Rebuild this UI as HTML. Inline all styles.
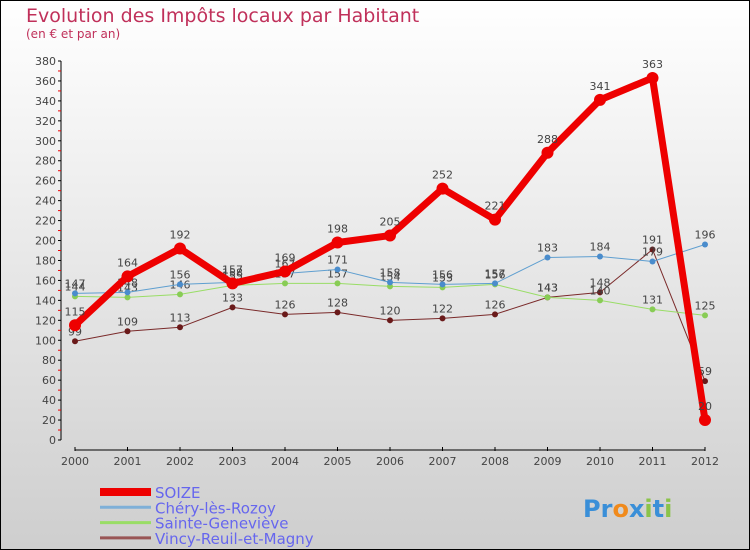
<!DOCTYPE html>
<html><head><meta charset="utf-8"><style>
body{margin:0}
svg{display:block;font-family:"DejaVu Sans","Liberation Sans",sans-serif}
</style></head><body>
<svg width="750" height="550" xmlns="http://www.w3.org/2000/svg">
<defs><linearGradient id="bg" x1="0" y1="0" x2="0" y2="1"><stop offset="0" stop-color="#ffffff"/><stop offset="1" stop-color="#cecece"/></linearGradient></defs>
<rect x="0.5" y="0.5" width="749" height="549" fill="url(#bg)" stroke="#000"/>
<text x="26" y="22" font-size="19" fill="#c0305a">Evolution des Impôts locaux par Habitant</text>
<text x="26" y="38" font-size="12" fill="#c0305a">(en € et par an)</text>
<g id="axes"></g>
<g id="series"></g>
<g id="legend"></g>
<text x="583" y="517" font-size="24" font-weight="bold"><tspan fill="#3a8fd8">Pr</tspan><tspan fill="#f08a1c">o</tspan><tspan fill="#3a8fd8">x</tspan><tspan fill="#8bc34a">i</tspan><tspan fill="#3a8fd8">t</tspan><tspan fill="#8bc34a">i</tspan></text>
</svg>
<script>
const years=[2000,2001,2002,2003,2004,2005,2006,2007,2008,2009,2010,2011,2012];
const yTicks=[0,20,40,60,80,100,120,140,160,180,200,220,240,260,280,300,320,340,360,380];
const seriesNames=["SOIZE","Chéry-lès-Rozoy","Sainte-Geneviève","Vincy-Reuil-et-Magny"];
const soize=[115,164,192,157,169,198,205,252,221,288,341,363,20];
const chery=[147,148,156,158,167,171,158,156,157,183,184,179,196];
const sainte=[144,143,146,155,157,157,154,153,156,143,140,131,125];
const vincy=[99,109,113,133,126,128,120,122,126,143,148,191,59];
const NS="http://www.w3.org/2000/svg";
const x0=75,x1=705,yBase=440,yTop=61,yMax=380;
const X=i=>x0+(x1-x0)*i/(years.length-1);
const Y=v=>yBase-(yBase-yTop)*v/yMax;
function mk(tag,attrs,parent,txt){const e=document.createElementNS(NS,tag);for(const k in attrs)e.setAttribute(k,attrs[k]);if(txt!==undefined)e.textContent=txt;parent.appendChild(e);return e;}
const ax=document.getElementById('axes');
let l=mk('line',{x1:61,y1:Y(yMax),x2:61,y2:yBase,stroke:'#000'},ax);


yTicks.forEach(v=>{
 let t=mk('line',{x1:58,x2:61,y1:Y(v),y2:Y(v),stroke:'#000'},ax);
 
 
 if(v<yMax){let m=mk('line',{x1:58,x2:61,y1:Y(v+10),y2:Y(v+10),stroke:'#e00'},ax);
 
 }
 let tx=mk('text',{x:56,y:Y(v)+4,'text-anchor':'end','font-size':11,fill:'#444'},ax,String(v));
 
 
});
l=mk('line',{x1:x0,y1:450,x2:x1,y2:450,stroke:'#000'},ax);


years.forEach((yr,i)=>{
 let t=mk('line',{x1:X(i),x2:X(i),y1:447,y2:451,stroke:'#000'},ax);
 
 
 let tx=mk('text',{x:X(i),y:465,'text-anchor':'middle','font-size':11,fill:'#444'},ax,String(yr));
 
 
});
const sg=document.getElementById('series');
const defs=[
 {d:vincy,c:'#7a2a2a',w:1,r:3,dot:'#6a1a1a',name:'vincy'},
 {d:sainte,c:'#99dd66',w:1,r:3,dot:'#88cc55',name:'sainte-genevieve'},
 {d:chery,c:'#5f9fd0',w:1,r:3,dot:'#4a8ccc',name:'chery-les-rozoy'},
 {d:soize,c:'#ee0000',w:7,r:6,dot:'#ee0000',name:'soize'}
];
defs.forEach(s=>{
 const g=mk('g',{},sg);
 
 
 let p=mk('polyline',{points:s.d.map((v,i)=>X(i)+','+Y(v)).join(' '),fill:'none',stroke:s.c,'stroke-width':s.w,'stroke-linejoin':'round'},g);
 
 
 s.d.forEach((v,i)=>{
  let c=mk('circle',{cx:X(i),cy:Y(v),r:s.r,fill:s.dot},g);
  
  
  let t=mk('text',{x:X(i),y:Y(v)-(s.w>1?10:6),'text-anchor':'middle','font-size':11,fill:'#444'},g,String(v));
  
  
 });
});
const lg=document.getElementById('legend');
const lc=[['#ee0000',8],['#7fb0d8',3],['#99dd66',3],['#995555',3]];
seriesNames.forEach((n,i)=>{
 const y=492+i*15.3;
 const g=mk('g',{},lg);
 
 
 let s=mk('line',{x1:100,x2:151,y1:y,y2:y,stroke:lc[i][0],'stroke-width':lc[i][1]},g);
 
 
 let t=mk('text',{x:155,y:y+6,'font-size':15,fill:'#6666ee'},g,n);
 
 
});
</script>
</body></html>
